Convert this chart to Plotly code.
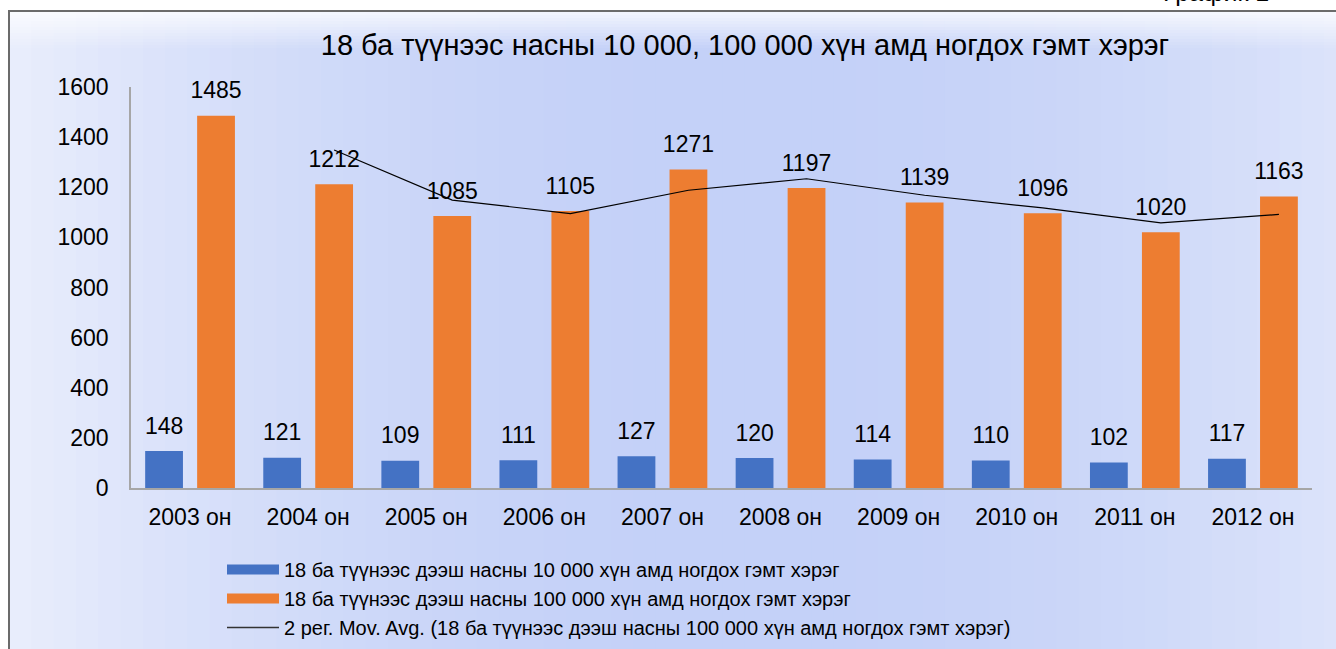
import plotly.graph_objects as go
import numpy as np

# ---- data ----
years = ["2003 он", "2004 он", "2005 он", "2006 он", "2007 он",
         "2008 он", "2009 он", "2010 он", "2011 он", "2012 он"]
per_10k = [148, 121, 109, 111, 127, 120, 114, 110, 102, 117]
per_100k = [1485, 1212, 1085, 1105, 1271, 1197, 1139, 1096, 1020, 1163]

name_10k = "18 ба түүнээс дээш насны 10 000 хүн амд ногдох гэмт хэрэг"
name_100k = "18 ба түүнээс дээш насны 100 000 хүн амд ногдох гэмт хэрэг"
name_ma = "2 рег. Mov. Avg. (18 ба түүнээс дээш насны 100 000 хүн амд ногдох гэмт хэрэг)"
title_text = "18 ба түүнээс насны 10 000, 100 000 хүн амд ногдох гэмт хэрэг"
corner_text = "График 1"

# ---- layout constants ----
W, H = 1336, 649
L, R, T, B = 131, 24, 87, 161
PW, PH = W - L - R, H - T - B
BAR_W = 0.32
OFF_BLUE, OFF_ORANGE = -0.38, 0.06
FONT = "Liberation Sans, Arial, sans-serif"
BLUE, ORANGE = "#4472C4", "#ED7D31"
LABEL_SIZE = 23

def px2x(p):
    return (p - L) / PW

def py2y(p):
    return (H - B - p) / PH

idx = np.arange(len(years))
ma_x = idx[1:] + OFF_ORANGE + BAR_W / 2
ma_y = [(per_100k[i - 1] + per_100k[i]) / 2 for i in range(1, len(per_100k))]

fig = go.Figure()
# bars
fig.add_trace(go.Bar(
    x=idx, y=per_10k, name=name_10k, width=BAR_W, offset=OFF_BLUE,
    marker=dict(color=BLUE, line=dict(width=0)), showlegend=False,
    legendgroup="a",
))
fig.add_trace(go.Bar(
    x=idx, y=per_100k, name=name_100k, width=BAR_W, offset=OFF_ORANGE,
    marker=dict(color=ORANGE, line=dict(width=0)), showlegend=False,
    legendgroup="b",
))
# moving-average trendline
fig.add_trace(go.Scatter(
    x=ma_x, y=ma_y, name=name_ma, mode="lines", showlegend=False,
    line=dict(color="#000000", width=1.2), cliponaxis=False, legendgroup="c",
))
# data labels above the bars
for vals, off in ((per_10k, OFF_BLUE), (per_100k, OFF_ORANGE)):
    fig.add_trace(go.Scatter(
        x=idx + off + BAR_W / 2, y=vals, mode="markers+text",
        text=[str(v) for v in vals], textposition="top center",
        textfont=dict(size=LABEL_SIZE, color="#000000", family=FONT),
        marker=dict(size=17, opacity=0), showlegend=False, hoverinfo="skip",
        cliponaxis=False,
    ))
# legend entries (wide swatches like the original)
fig.add_trace(go.Scatter(x=[None], y=[None], mode="lines", name=name_10k,
                         line=dict(color=BLUE, width=12), legendgroup="a"))
fig.add_trace(go.Scatter(x=[None], y=[None], mode="lines", name=name_100k,
                         line=dict(color=ORANGE, width=12), legendgroup="b"))
fig.add_trace(go.Scatter(x=[None], y=[None], mode="lines", name=name_ma,
                         line=dict(color="#333333", width=1.3), legendgroup="c"))

# ---- background gradient (decoration) ----
shapes = []
N = 60
x_left, x_right = 9, W + 10
for k in range(N):
    t = (k + 0.5) / N
    w = max(0.0, 1 - (abs(t - 0.55) / 0.6) ** 2)
    c0 = np.array([241, 244, 253])
    c1 = np.array([196, 209, 248])
    c = c0 + (c1 - c0) * w
    xa = x_left + (x_right - x_left) * k / N
    xb = x_left + (x_right - x_left) * (k + 1) / N + 1
    shapes.append(dict(type="rect", xref="paper", yref="paper", layer="below",
                       x0=px2x(xa), x1=px2x(xb), y0=py2y(11), y1=py2y(H + 10),
                       fillcolor="rgb(%d,%d,%d)" % tuple(c.astype(int)),
                       line=dict(width=0)))
M = 12
for k in range(M):
    ya = 12 + k * 3
    op = 0.75 * (1 - k / M)
    shapes.append(dict(type="rect", xref="paper", yref="paper", layer="below",
                       x0=px2x(x_left), x1=px2x(x_right), y0=py2y(ya), y1=py2y(ya + 3),
                       fillcolor="rgba(255,255,255,%.3f)" % op, line=dict(width=0)))
shapes.append(dict(type="rect", xref="paper", yref="paper", layer="below",
                   x0=px2x(9), x1=px2x(W + 10), y0=py2y(11), y1=py2y(H + 10),
                   fillcolor="rgba(0,0,0,0)", line=dict(color="#6b6b6b", width=2)))

fig.update_layout(
    width=W, height=H,
    margin=dict(l=L, r=R, t=T, b=B, autoexpand=False),
    paper_bgcolor="#ffffff", plot_bgcolor="#ffffff",
    font=dict(family=FONT, size=20, color="#000000"),
    title=dict(text=title_text, x=745 / W, xref="container", xanchor="center",
               y=1 - 45 / H, yref="container", yanchor="middle",
               font=dict(size=29, family=FONT, color="#000000")),
    barmode="overlay",
    showlegend=True,
    legend=dict(x=222 / W, xref="container", xanchor="left",
                y=1 - 550 / H, yref="container", yanchor="top",
                bgcolor="rgba(0,0,0,0)", font=dict(size=20, family=FONT),
                tracegroupgap=0, itemwidth=52, traceorder="normal"),
    shapes=shapes,
    xaxis=dict(range=[-0.5, len(years) - 0.5], tickvals=idx, ticktext=years,
               showgrid=False, zeroline=False, showline=True, linecolor="#a6a6a6",
               linewidth=1.5, ticks="", ticklabelstandoff=8, tickangle=0,
               automargin=False, tickfont=dict(size=LABEL_SIZE, family=FONT)),
    yaxis=dict(range=[0, 1600], dtick=200, showgrid=False, zeroline=False,
               showline=True, linecolor="#a6a6a6", linewidth=1.5, ticks="",
               automargin=False,
               ticklabelstandoff=16, tickfont=dict(size=LABEL_SIZE, family=FONT)),
    annotations=[dict(text=corner_text, xref="paper", yref="paper",
                      x=px2x(1216), y=py2y(8), xanchor="center", yanchor="bottom",
                      showarrow=False, font=dict(size=25, family=FONT))],
)

fig.write_html("out.html", config={"displayModeBar": False},
               post_script="document.body.style.margin='0';"
                           "document.body.style.overflow='hidden';")
